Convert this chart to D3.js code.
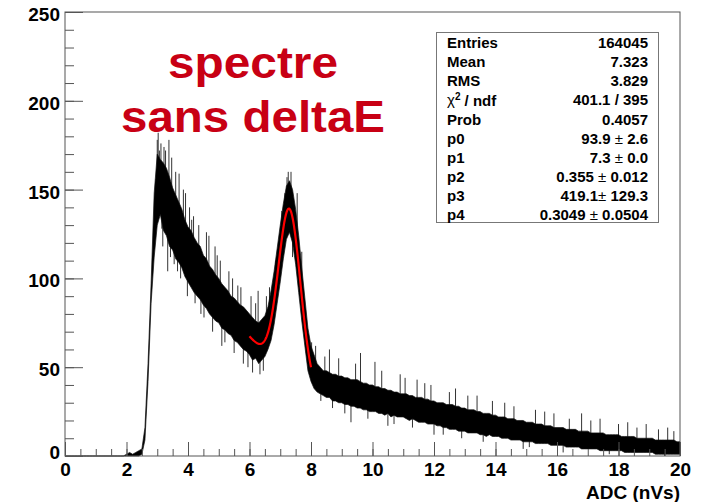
<!DOCTYPE html>
<html>
<head>
<meta charset="utf-8">
<script src="https://cdn.jsdelivr.net/npm/d3@7"></script>
<style>
  html, body { margin: 0; padding: 0; background: #fff; }
  svg { display: block; font-family: "Liberation Sans", Arial, Helvetica, sans-serif; }
</style>
</head>
<body>
<svg id="chart" width="708" height="502"></svg>
<script>
// ---- ADC spectrum: lower / upper edge of the dense counts per 0.1 nVs column (x = 0.0 ... 20.0)
const binStep = 0.1;
const countLow = [
  0,0,0,0,0,0,0,0,0,0, 0,0,0,0,0,0,0,0,0,0,
  0,0,0,0,0,1,9,42,86,112,
  130,136,127,124,118,116,111,109,106,101,
  98,95,92,90,88,85,83,80,78,76,
  75,72,71,69,68,65,64,62,60,59,
  57,54,55,52,54,56,60,65,74,86,
  98,111,122,126,120,108,92,76,62,48,
  42,38,36,35,34,33,33,31,31,30,
  30,29,29,28,28,27,27,26,26,25,
  25,25,24,24,23,24,22,23,22,22,
  22,21,20,21,20,19,19,19,18,18,
  18,17,17,16,16,15,15,15,14,14,
  14,13,13,13,13,12,12,11,12,11,
  11,11,10,10,10,9,9,9,9,8,
  8,8,8,7,7,7,7,7,6,6,
  6,6,6,5,5,5,5,5,4,4,
  4,4,4,4,3,3,3,3,3,3,
  3,3,2,2,2,2,2,2,2,2,
  2,2,1,1,1,1,1,1,1,1,
  1
];
const countHigh = [
  0,0,0,0,0,0,0,0,0,0, 0,0,0,0,0,0,0,0,0,0,
  1,2,1,2,3,4,16,52,97,148,
  170,167,165,162,157,151,147,143,139,133,
  129,127,123,120,118,113,111,107,105,102,
  100,97,95,93,90,89,87,85,84,82,
  80,78,76,75,77,79,84,93,104,117,
  130,142,152,155,150,139,124,106,89,72,
  62,57,52,50,48,48,47,46,46,45,
  45,44,44,43,43,43,42,41,41,40,
  40,39,39,38,38,37,37,36,36,35,
  35,35,34,34,33,33,33,32,32,31,
  31,30,30,30,29,29,29,28,28,27,
  27,26,26,26,25,25,24,24,24,23,
  23,22,22,22,21,21,21,20,20,20,
  19,19,19,18,18,18,17,17,17,16,
  16,16,16,15,15,15,15,14,14,14,
  14,13,13,13,13,13,12,12,12,12,
  12,11,11,11,11,11,10,10,10,10,
  10,10,9,9,9,9,9,9,9,8,
  8
];
// isolated single-bin spikes: position and counts
const spikeX = [
  2.96,3.00,3.03,3.07,3.12,3.15,3.18,3.22,3.27,3.34,3.38,3.43,3.47,3.55,3.60,3.66,3.71,3.76,3.85,3.92,3.98,
  4.05,4.12,4.18,4.23,4.35,4.42,4.52,4.60,4.68,4.80,4.88,4.95,5.05,5.10,5.20,5.33,5.45,5.50,5.62,5.72,5.80,5.95,
  6.05,6.10,6.20,6.28,6.34,6.45,6.55,6.65,6.85,7.05,7.15,7.22,7.26,7.35,7.40,7.45,7.55,7.70,7.85,
  8.02,8.15,8.32,8.45,8.60,8.70,8.90,9.10,9.30,9.45,9.61,9.85,10.08,10.30,10.50,10.70,10.90,11.06,11.30,11.45,11.70,11.90,
  12.00,12.30,12.50,12.70,12.90,13.10,13.40,13.60,13.90,14.30,14.60,14.90,15.10,15.30,15.60,15.90,16.20,16.40,16.80,
  17.10,17.40,17.70,18.00,18.30,18.60,18.90,19.30,19.50,19.60,19.80
];
const spikeY = [
  156,178,182,172,176,128,118,174,172,104,178,112,168,108,160,104,159,100,150,148,90,
  140,133,135,86,130,80,78,126,124,70,118,113,110,62,64,104,100,58,96,95,52,50,
  90,47,86,93,46,48,90,95,110,138,148,157,160,160,112,118,148,115,58,
  64,62,31,56,60,27,55,24,19,52,58,21,53,48,17,18,46,44,16,43,41,40,
  12,12,36,38,10,34,34,8,31,30,28,4,5,26,25,24,2,21,24,
  20,21,1,18,19,16,18,15,0,16,14
];

// ---- fit: gaus(p0,p1,p2) + p3*exp(-p4*x) over [6, 8]
const paramNames = ["p0", "p1", "p2", "p3", "p4"];
const paramText  = ["93.9", "7.3", "0.355", "419.1", "0.3049"];
const paramErr   = ["2.6", "0.0", "0.012", "129.3", "0.0504"];
const paramSep   = [" ", " ", " ", "", " "];
const fitRange = [6, 8];

// ---- statistics box
const statNames  = ["Entries", "Mean", "RMS", "CHI", "Prob"];
const statValues = ["164045", "7.323", "3.829", "401.1 / 395", "0.4057"];

// ---- axes
const xTickValues = [0, 2, 4, 6, 8, 10, 12, 14, 16, 18, 20];
const yTickValues = [0, 50, 100, 150, 200, 250];
const xTitle = "ADC (nVs)";
const titleLines = ["spectre", "sans deltaE"];

const svg = d3.select("#chart");
const x = d3.scaleLinear().domain([0, 20]).range([65, 680]);
const y = d3.scaleLinear().domain([0, 250]).range([456, 12]);
const axisColor = "#555";

// spikes from the band mid-line (drawn first, the band covers their inner part)
svg.append("g").selectAll("line")
  .data(spikeX)
  .join("line")
  .attr("x1", d => x(d)).attr("x2", d => x(d))
  .attr("y1", d => {
    const k = Math.round(d / binStep);
    return y((countLow[k] + countHigh[k]) / 2);
  })
  .attr("y2", (d, i) => y(spikeY[i]))
  .attr("stroke", "#333")
  .attr("stroke-width", 1);

// histogram band
const binX = d3.range(countLow.length).map(i => i * binStep);
const band = countLow.map((v, i) => [v, countHigh[i]]);
svg.append("path")
  .datum(band)
  .attr("d", d3.area()
    .x((d, i) => x(binX[i]))
    .y0(d => y(d[0]))
    .y1(d => y(d[1])))
  .attr("fill", "#000")
  .attr("stroke", "#111")
  .attr("stroke-width", 0.7);

// fit curve
const par = paramText.map(Number);
const fitFn = v => par[0] * Math.exp(-0.5 * Math.pow((v - par[1]) / par[2], 2)) + par[3] * Math.exp(-par[4] * v);
const fitX = d3.range(fitRange[0], fitRange[1] + 1e-9, 0.01);
svg.append("path")
  .datum(fitX)
  .attr("d", d3.line().x(d => x(d)).y(d => y(fitFn(d))))
  .attr("fill", "none")
  .attr("stroke", "#ff0000")
  .attr("stroke-width", 2.2);

// frame
svg.append("rect")
  .attr("x", x(0)).attr("y", y(250))
  .attr("width", x(20) - x(0)).attr("height", y(0) - y(250))
  .attr("fill", "none").attr("stroke", axisColor).attr("stroke-width", 1);

// y axis: major + minor ticks pointing into the frame
const yMajor = d3.axisLeft(y).tickValues(yTickValues).tickSize(-18).tickPadding(5).tickFormat(d3.format("d"));
const yMinor = d3.axisLeft(y).tickValues(d3.range(0, 251, 10)).tickSize(-9).tickFormat("");
const gyMin = svg.append("g").attr("transform", `translate(${x(0)},0)`).call(yMinor);
const gy = svg.append("g").attr("transform", `translate(${x(0)},0)`).call(yMajor);
[gy, gyMin].forEach(g => {
  g.select(".domain").remove();
  g.selectAll("line").attr("stroke", axisColor);
});
gy.selectAll("text")
  .attr("fill", "#000").attr("font-size", 19).attr("font-weight", "bold")
  .attr("font-family", "Liberation Sans, Arial, sans-serif")
  .attr("dy", d => d === 0 ? "0.12em" : "0.45em");

// x axis
const xMajor = d3.axisBottom(x).tickValues(xTickValues).tickSize(-14).tickPadding(7).tickFormat(d3.format("d"));
const xMinor = d3.axisBottom(x).tickValues(d3.range(0, 20.01, 0.5)).tickSize(-7).tickFormat("");
const gxMin = svg.append("g").attr("transform", `translate(0,${y(0)})`).call(xMinor);
const gx = svg.append("g").attr("transform", `translate(0,${y(0)})`).call(xMajor);
[gx, gxMin].forEach(g => {
  g.select(".domain").remove();
  g.selectAll("line").attr("stroke", axisColor);
});
gx.selectAll("text")
  .attr("fill", "#000").attr("font-size", 19).attr("font-weight", "bold")
  .attr("font-family", "Liberation Sans, Arial, sans-serif");

svg.append("text")
  .attr("x", 680).attr("y", 499)
  .attr("text-anchor", "end")
  .attr("font-size", 19).attr("font-weight", "bold")
  .text(xTitle);

// title
const titleLen = [170, 264];
const titleBase = [78, 132];
svg.append("g").selectAll("text")
  .data(titleLines)
  .join("text")
  .attr("x", 253).attr("y", (d, i) => titleBase[i])
  .attr("text-anchor", "middle")
  .attr("font-size", 44).attr("font-weight", "bold")
  .attr("fill", "rgb(200,0,20)")
  .attr("textLength", (d, i) => titleLen[i])
  .attr("lengthAdjust", "spacingAndGlyphs")
  .text(d => d);

// statistics box
const box = svg.append("g");
box.append("rect")
  .attr("x", 436.5).attr("y", 32.5).attr("width", 222).attr("height", 190)
  .attr("fill", "#fff").attr("stroke", "#777").attr("stroke-width", 1);
const rowY = i => 42.7 + i * 19.1;
const fs = 15;
statNames.forEach((name, i) => {
  const t = box.append("text").attr("x", 447).attr("y", rowY(i)).attr("dy", "0.36em")
    .attr("font-size", fs).attr("font-weight", "bold");
  if (name === "CHI") {
    t.append("tspan").attr("font-weight", "normal").text("\u03c7");
    t.append("tspan").attr("font-size", 10).attr("dy", "-0.55em").text("2");
    t.append("tspan").attr("dy", "0.38em").text(" / ndf");
  } else {
    t.text(name);
  }
  box.append("text").attr("x", 648).attr("y", rowY(i)).attr("dy", "0.36em")
    .attr("text-anchor", "end").attr("font-size", fs).attr("font-weight", "bold")
    .text(statValues[i]);
});
paramNames.forEach((name, j) => {
  const i = j + statNames.length;
  box.append("text").attr("x", 447).attr("y", rowY(i)).attr("dy", "0.36em")
    .attr("font-size", fs).attr("font-weight", "bold").text(name);
  const t = box.append("text").attr("x", 648).attr("y", rowY(i)).attr("dy", "0.36em")
    .attr("text-anchor", "end").attr("font-size", fs).attr("font-weight", "bold");
  t.append("tspan").text(paramText[j] + paramSep[j]);
  t.append("tspan").attr("font-weight", "normal").text("\u00b1");
  t.append("tspan").text(" " + paramErr[j]);
});
</script>
</body>
</html>
